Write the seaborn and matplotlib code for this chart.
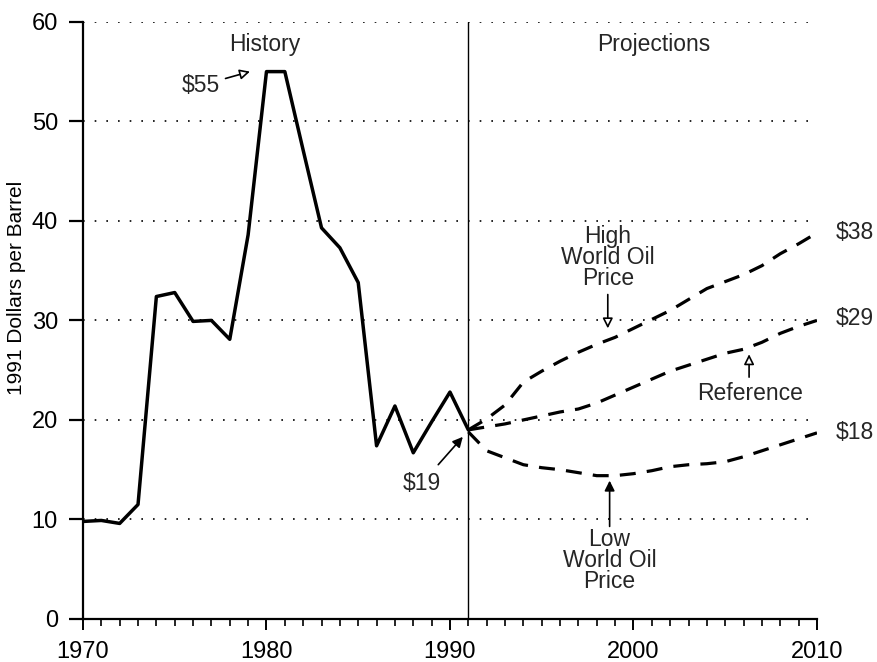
import numpy as np
import pandas as pd
import matplotlib
matplotlib.use("Agg")
import matplotlib.pyplot as plt
from matplotlib.ticker import MultipleLocator
import seaborn as sns

# Datos (dólares de 1991 por barril)
hist_years = list(range(1970, 1992))
hist_price = [9.8, 9.9, 9.6, 11.5, 32.4, 32.8, 29.9, 30.0, 28.1, 38.6, 55.0,
              55.0, 47.1, 39.3, 37.3, 33.8, 17.4, 21.4, 16.7, 19.8, 22.8, 19.0]

proj_years = list(range(1991, 2011))
high_price = [19.0, 20.1, 21.5, 23.8, 24.9, 25.9, 26.8, 27.6, 28.3, 29.2,
              30.1, 31.0, 32.1, 33.2, 33.9, 34.6, 35.5, 36.7, 37.7, 38.8]
ref_price = [19.0, 19.3, 19.6, 20.0, 20.4, 20.8, 21.1, 21.7, 22.5, 23.3,
             24.1, 24.9, 25.5, 26.1, 26.7, 27.1, 27.8, 28.7, 29.4, 30.0]
low_price = [18.8, 16.9, 16.2, 15.5, 15.2, 15.0, 14.7, 14.4, 14.4, 14.6,
             14.9, 15.3, 15.5, 15.6, 15.8, 16.3, 16.9, 17.5, 18.1, 18.7]

end_labels = ["$38", "$29", "$18"]

hist = pd.DataFrame({"year": hist_years, "price": hist_price})
proj = pd.DataFrame({"year": proj_years * 3,
                     "price": high_price + ref_price + low_price,
                     "case": ["High"] * 20 + ["Reference"] * 20 + ["Low"] * 20})

sns.set_theme(style="ticks")
plt.rcParams["font.family"] = ["Liberation Sans", "DejaVu Sans"]

fig, ax = plt.subplots(figsize=(8.78, 6.62), dpi=100)
fig.subplots_adjust(left=0.0945, right=0.9305, bottom=0.065, top=0.967)

ax.grid(axis="y", color="black", ls=(0, (1, 6)), lw=1.2)

sns.lineplot(data=hist, x="year", y="price", color="black", lw=2.5, ax=ax)
for case in ["High", "Reference", "Low"]:
    sns.lineplot(data=proj[proj["case"] == case], x="year", y="price",
                 color="black", lw=2.3, ax=ax, dashes=False,
                 linestyle=(0, (5, 3.5)))

ax.axvline(1991, color="black", lw=1.0)

ax.set_xlim(1970, 2010)
ax.set_ylim(0, 60)
ax.xaxis.set_major_locator(MultipleLocator(10))
ax.xaxis.set_minor_locator(MultipleLocator(1))
ax.yaxis.set_major_locator(MultipleLocator(10))
sns.despine(ax=ax)
for s in ["left", "bottom"]:
    ax.spines[s].set_linewidth(1.6)
    ax.spines[s].set_color("black")
ax.tick_params(axis="x", which="major", length=8, width=1.4, direction="out",
               labelsize=17, pad=8, colors="black")
ax.tick_params(axis="x", which="minor", length=5, width=1.2, direction="out",
               colors="black")
ax.tick_params(axis="y", which="major", length=10, width=1.6, direction="out",
               labelsize=17, pad=8, colors="black")

ax.set_xlabel("")
ax.set_ylabel("1991 Dollars per Barrel", fontsize=15, color="black")
ax.yaxis.set_label_coords(-0.077, 0.555)

fs = 16.5
ax.text(1979.9, 57.7, "History", ha="center", va="center", fontsize=fs)
ax.text(2001.1, 57.7, "Projections", ha="center", va="center", fontsize=fs)

ax.annotate("$55", xy=(1979.1, 55.0), xytext=(1976.4, 53.6), ha="center",
            va="center", fontsize=fs,
            arrowprops=dict(arrowstyle="-|>", color="black", fc="white",
                            lw=1.2, mutation_scale=15, shrinkA=2, shrinkB=0))
ax.annotate("$19", xy=(1990.7, 18.3), xytext=(1988.45, 13.6), ha="center",
            va="center", fontsize=fs,
            arrowprops=dict(arrowstyle="-|>", color="black",
                            lw=1.2, mutation_scale=15, shrinkA=4, shrinkB=0))

ax.text(1998.6, 36.3, "High\nWorld Oil\nPrice", ha="center", va="center",
        fontsize=fs, linespacing=0.9)
ax.annotate("", xy=(1998.6, 29.2), xytext=(1998.6, 32.6),
            arrowprops=dict(arrowstyle="-|>", color="black", fc="white",
                            lw=1.2, mutation_scale=15, shrinkA=0, shrinkB=0))

ax.text(2006.35, 22.7, "Reference", ha="center", va="center", fontsize=fs)
ax.annotate("", xy=(2006.3, 26.6), xytext=(2006.3, 24.3),
            arrowprops=dict(arrowstyle="-|>", color="black", fc="white",
                            lw=1.2, mutation_scale=15, shrinkA=0, shrinkB=0))

ax.text(1998.7, 5.9, "Low\nWorld Oil\nPrice", ha="center", va="center",
        fontsize=fs, linespacing=0.9)
ax.annotate("", xy=(1998.7, 13.9), xytext=(1998.7, 9.3),
            arrowprops=dict(arrowstyle="-|>", color="black",
                            lw=1.2, mutation_scale=15, shrinkA=0, shrinkB=0))

for lab, yv in zip(end_labels, [38.8, 30.2, 18.7]):
    ax.text(2011.0, yv, lab, ha="left", va="center", fontsize=fs, clip_on=False)

fig.savefig("out.png", dpi=100)
